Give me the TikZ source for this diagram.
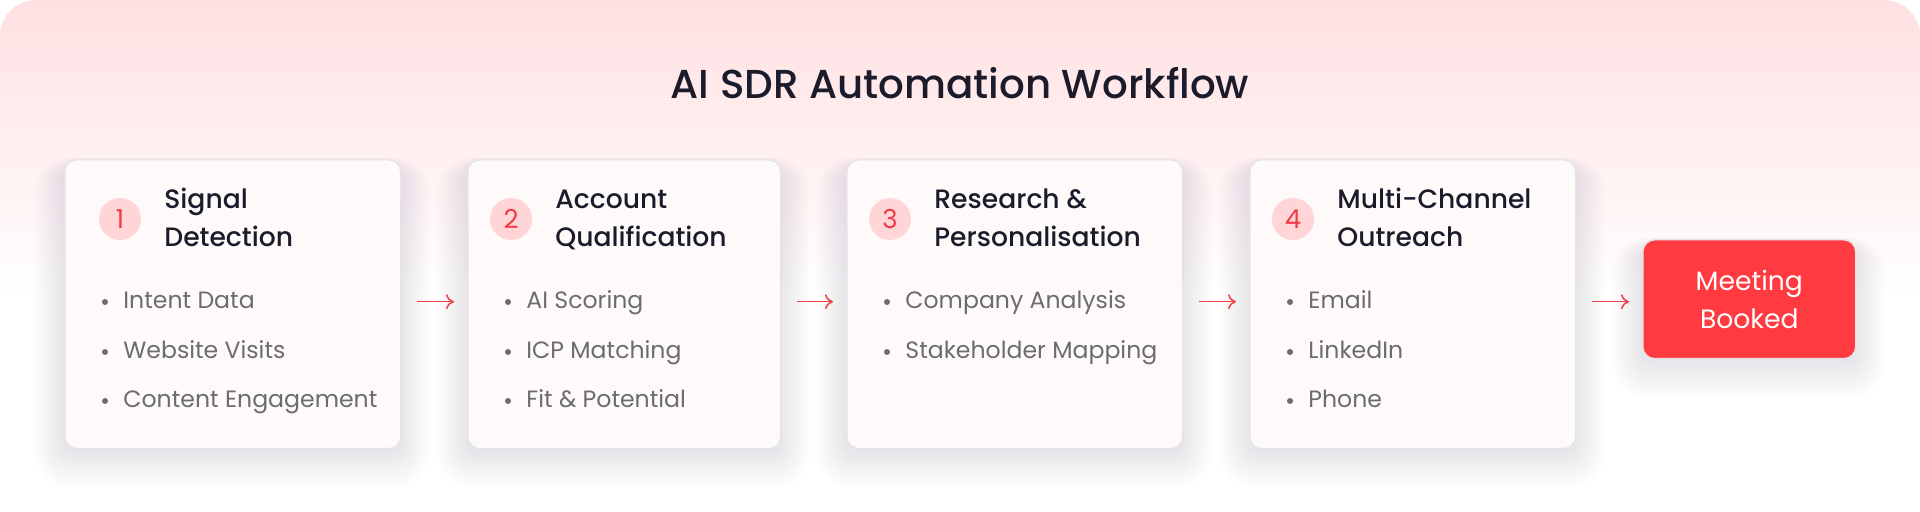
\documentclass[tikz,border=0pt]{standalone}
\usepackage{fontspec}
\setmainfont{Poppins}
\newfontfamily\pmed{Poppins Medium}
\usetikzlibrary{calc,arrows.meta}
\definecolor{bgtop}{HTML}{FFE0E2}
\definecolor{cardfill}{HTML}{FFFAFA}
\definecolor{cardline}{HTML}{E4E3EA}
\definecolor{numfill}{HTML}{FFD5D7}
\definecolor{numred}{HTML}{F23A45}
\definecolor{headtxt}{HTML}{1B1B2B}
\definecolor{bultxt}{HTML}{6B6B73}
\definecolor{arrred}{HTML}{F2404A}
\definecolor{meetred}{HTML}{FF3A40}
\definecolor{shcol}{HTML}{8A8A9A}
\pgfdeclareverticalshading{bgsh}{100bp}{color(0bp)=(white); color(46bp)=(white); color(75bp)=(bgtop); color(100bp)=(bgtop)}
\newcommand\softshadow[4]{%
  \foreach \i in {1,...,12}{%
    \pgfmathsetmacro\rc{6+\i}%
    \fill[shcol, opacity=0.010, rounded corners=\rc pt] (#1-\i*2.5, #2-\i*1+10) rectangle (#3+\i*2.5, #4+\i*3+4);
  }%
}
\begin{document}
\begin{tikzpicture}[x=0.5pt,y=-0.5pt,
  card/.style={draw=cardline, line width=0.75pt, fill=cardfill, rounded corners=6pt,
    minimum height=144.5pt, anchor=north west, inner sep=0pt},
  num/.style={circle, fill=numfill, minimum size=21pt, inner sep=0pt, text=numred,
    font=\fontsize{13}{15}\selectfont},
  head/.style={anchor=base west, inner sep=0pt, text=headtxt, font=\pmed\fontsize{13.3}{15}\selectfont},
  bul/.style={anchor=base west, inner sep=0pt, text=bultxt, font=\fontsize{11.8}{14}\selectfont},
  dot/.style={circle, fill=bultxt, minimum size=3pt, inner sep=0pt},
  arr/.style={draw=arrred, line width=0.75pt, -{To[length=4pt,width=7.5pt]}},
  meet/.style={draw=cardline, line width=0.75pt, fill=meetred, rounded corners=6pt,
    minimum width=106.5pt, minimum height=59.5pt, anchor=north west, inner sep=0pt,
    text=white, align=center, font=\fontsize{13.3}{19}\selectfont}
]
\useasboundingbox (0,0) rectangle (1920,512);
\fill[white] (0,0) rectangle (1920,512);
\shade[shading=bgsh, rounded corners=18pt] (0,0) rectangle (1920,512);

\node[font=\pmed\fontsize{20.2}{24}\selectfont, text=headtxt, anchor=base, inner sep=0pt] (title) at (960,99) {AI SDR Automation Workflow};

% shadows
\softshadow{64}{159}{400}{448}
\softshadow{467}{159}{780}{448}
\softshadow{846}{159}{1182}{448}
\softshadow{1249}{159}{1575}{448}
\softshadow{1642}{239}{1855}{358}

% cards
\node[card, minimum width=168pt] (b1) at (64,159) {};
\node[card, minimum width=156.5pt] (b2) at (467,159) {};
\node[card, minimum width=168pt] (b3) at (846,159) {};
\node[card, minimum width=163pt] (b4) at (1249,159) {};
\node[meet] (m) at (1642,239) {Meeting\\Booked};

% card 1
\node[num] (n1) at (120,219) {1};
\node[head] (h1a) at (164,209) {Signal};
\node[head] (h1b) at (164,247) {Detection};
\node[dot] (d1a) at (105,302) {};
\node[bul] (t1a) at (123,309) {Intent Data};
\node[dot] (d1b) at (105,352) {};
\node[bul] (t1b) at (123,359) {Website Visits};
\node[dot] (d1c) at (105,401) {};
\node[bul] (t1c) at (123,408) {Content Engagement};

% card 2
\node[num] (n2) at (511,219) {2};
\node[head] (h2a) at (555,209) {Account};
\node[head] (h2b) at (555,247) {Qualification};
\node[dot] (d2a) at (508,302) {};
\node[bul] (t2a) at (526,309) {AI Scoring};
\node[dot] (d2b) at (508,352) {};
\node[bul] (t2b) at (526,359) {ICP Matching};
\node[dot] (d2c) at (508,401) {};
\node[bul] (t2c) at (526,408) {Fit \& Potential};

% card 3
\node[num] (n3) at (890,219) {3};
\node[head] (h3a) at (934,209) {Research \&};
\node[head] (h3b) at (934,247) {Personalisation};
\node[dot] (d3a) at (887,302) {};
\node[bul] (t3a) at (905,309) {Company Analysis};
\node[dot] (d3b) at (887,352) {};
\node[bul] (t3b) at (905,359) {Stakeholder Mapping};

% card 4
\node[num] (n4) at (1293,219) {4};
\node[head] (h4a) at (1337,209) {Multi-Channel};
\node[head] (h4b) at (1337,247) {Outreach};
\node[dot] (d4a) at (1290,302) {};
\node[bul] (t4a) at (1308,309) {Email};
\node[dot] (d4b) at (1290,352) {};
\node[bul] (t4b) at (1308,359) {LinkedIn};
\node[dot] (d4c) at (1290,401) {};
\node[bul] (t4c) at (1308,408) {Phone};

% arrows
\draw[arr] ($(b1.east)+(15,-2.5)$) -- ($(b2.west)+(-13,-2.5)$);
\draw[arr] ($(b2.east)+(15,-2.5)$) -- ($(b3.west)+(-13,-2.5)$);
\draw[arr] ($(b3.east)+(15,-2.5)$) -- ($(b4.west)+(-13,-2.5)$);
\draw[arr] ($(b4.east)+(15,-2.5)$) -- ($(m.west)+(-13,2.5)$);
\end{tikzpicture}
\end{document}
